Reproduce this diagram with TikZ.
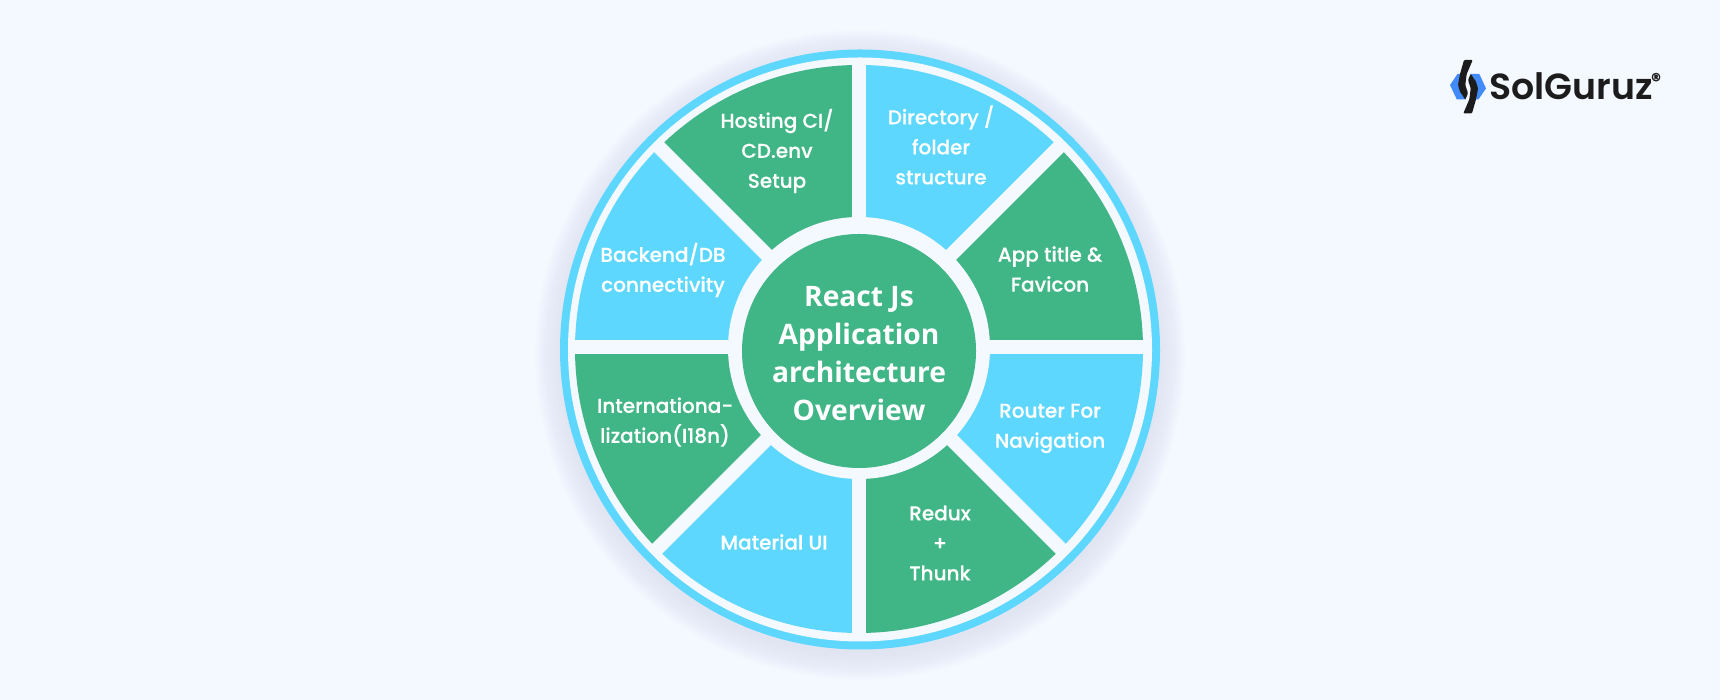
\documentclass[tikz,border=0pt]{standalone}
\usepackage{fontspec}
\newfontfamily\labelfont{Poppins Medium}[FakeBold=0.25]
\newfontfamily\logofont{Poppins SemiBold}
\newfontfamily\hubfont{Open Sans}
\usetikzlibrary{positioning}
\definecolor{mygreen}{RGB}{64,181,133}
\definecolor{myblue}{RGB}{94,215,254}
\definecolor{mypage}{RGB}{244,248,255}
\definecolor{myshade}{RGB}{105,110,130}
\definecolor{mylogoblue}{RGB}{66,139,250}
\definecolor{mylogoblack}{RGB}{28,28,28}
\tikzset{
  seglabel/.style={text=white, align=center, font=\labelfont\fontsize{20}{30}\selectfont},
  hubdisc/.style={circle, fill=mygreen, minimum size=234pt, inner sep=0pt},
  hublabel/.style={text=white, align=center, font=\hubfont\bfseries\fontsize{28.2}{38}\selectfont}
}
\begin{document}
\begin{tikzpicture}[x=1pt, y=1pt]
      \fill[mypage] (0,0) rectangle (1720,700);
      \coordinate(c) at (859,351);
      \coordinate(b) at (859,353);

      % soft shadow behind the ring
      \foreach \r in {1,3,...,25} {
        \fill[myshade, opacity=0.0075] (860,345) circle (300+\r);
      }
      \fill[myblue] (860,350.5) circle (300);
      \fill[mypage] (860,350.5) circle (292);

      % sectors
      \foreach \a/\col in {0/mygreen,45/myblue,90/mygreen,135/myblue,180/mygreen,225/myblue,270/mygreen,315/myblue} {
        \fill[\col] (c) -- +(\a:284) arc[start angle=\a, delta angle=45, radius=284] -- cycle;
      }
      \foreach \a in {0,45,90,135} {
        \draw[mypage, line width=14pt] (b) ++(\a:288) -- ++(\a+180:576);
      }
      \fill[mypage] (859,352) circle (131);

      \node(hub) [hubdisc] at (859,349) {};
      \node(hubtext) [hublabel] at (859,346) {React Js\\Application\\architecture\\Overview};

      \node(hosting) [seglabel] at (777,549) {Hosting CI/\\CD.env\\Setup};
      \node(folder) [seglabel] at (941,555) {Directory /\\folder\\structure};
      \node(backend) [seglabel] at (663,430) {Backend/DB\\connectivity};
      \node(title) [seglabel] at (1050,431) {App title \&\\Favicon};
      \node(intl) [seglabel] at (665,278) {Internationa-\\lization(I18n)};
      \node(router) [seglabel] at (1050,271.5) {Router For\\Navigation};
      \node(material) [seglabel] at (774,158) {Material UI};
      \node(redux) [seglabel] at (940,157) {Redux\\+\\Thunk};

      % logo
      \fill[mylogoblue] (1450,615) -- (1457.5,626) -- (1462,626) -- (1462,605) -- (1466,600.7) -- (1456.7,600.7) -- cycle;
      \fill[mylogoblue] (1486,611.6) -- (1478.5,600.6) -- (1474,600.6) -- (1474,621.6) -- (1470,626) -- (1479.3,626) -- cycle;
      \fill[mylogoblack, rounded corners=1pt] (1464,640) -- (1472.7,640) -- (1466.7,626) -- (1465.3,615) -- (1468,606.7) -- (1465.3,600.3) -- (1460,608.3) -- (1458,615) -- (1460,626) -- cycle;
      \fill[mylogoblack, rounded corners=1pt] (1472,586.6) -- (1463.3,586.6) -- (1469.3,600.6) -- (1470.7,611.6) -- (1468,620) -- (1470.7,626.3) -- (1476,618.3) -- (1478,611.6) -- (1476,600.6) -- cycle;
      \node(logo) [font=\logofont\fontsize{36.3}{36.3}\selectfont, text=mylogoblack, anchor=west, inner sep=0pt] at (1489,614) {SolGuruz};
      \node(reg) [font=\labelfont\fontsize{20}{20}\selectfont, text=mylogoblack, inner sep=0pt] at (1656,620) {®};
\end{tikzpicture}
\end{document}
